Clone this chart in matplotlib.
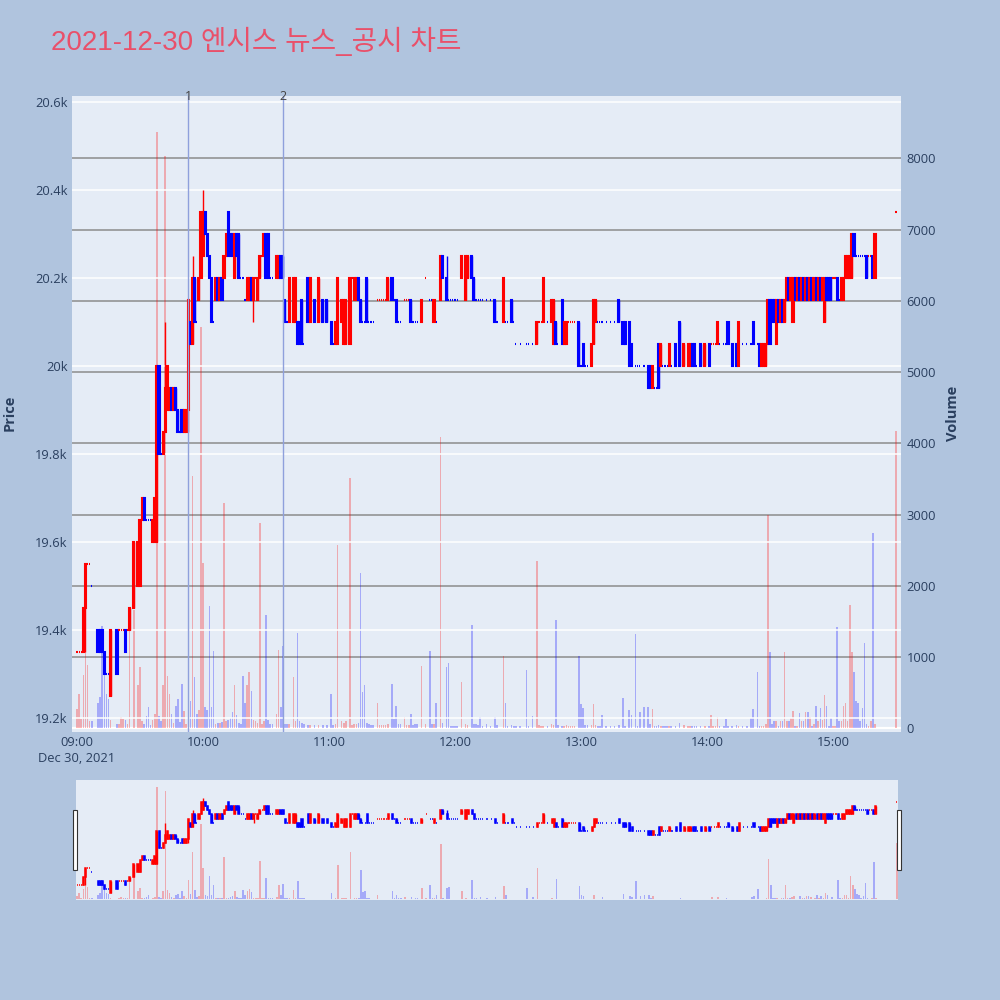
import matplotlib
matplotlib.use('Agg')
import matplotlib.pyplot as plt
from matplotlib.patches import Rectangle
from matplotlib.ticker import FuncFormatter

plt.rcParams['font.family'] = ['Open Sans', 'Noto Sans CJK KR', 'DejaVu Sans']

TITLE = '2021-12-30 엔시스 뉴스_공시 차트'

# minutes after 09:00 (one candle per traded minute)
minutes = [
    0, 1, 2, 3, 4, 5, 6, 7, 10, 11,
    12, 13, 14, 15, 16, 19, 20, 21, 22, 23,
    24, 25, 27, 29, 30, 31, 32, 33, 34, 35,
    36, 37, 38, 39, 40, 41, 42, 43, 44, 45,
    46, 47, 48, 49, 50, 51, 52, 53, 54, 55,
    56, 57, 58, 59, 60, 61, 62, 63, 64, 65,
    66, 67, 68, 69, 70, 71, 72, 73, 74, 75,
    76, 77, 78, 79, 80, 81, 82, 83, 84, 85,
    86, 87, 88, 89, 90, 91, 92, 93, 95, 96,
    97, 98, 99, 100, 101, 103, 104, 105, 106, 107,
    108, 110, 111, 113, 115, 117, 119, 121, 122, 123,
    124, 126, 127, 128, 130, 131, 132, 133, 134, 135,
    136, 137, 138, 139, 140, 141, 143, 144, 145, 146,
    147, 148, 150, 151, 152, 153, 154, 156, 157, 158,
    159, 160, 161, 162, 164, 166, 168, 169, 170, 171,
    173, 174, 176, 177, 178, 179, 180, 181, 183, 185,
    186, 188, 189, 190, 191, 192, 193, 195, 197, 199,
    200, 203, 204, 205, 207, 208, 209, 211, 214, 215,
    217, 219, 220, 221, 222, 224, 226, 227, 228, 229,
    231, 232, 233, 234, 235, 236, 237, 239, 240, 241,
    242, 243, 245, 246, 247, 248, 249, 250, 252, 254,
    256, 258, 260, 261, 263, 264, 266, 267, 268, 270,
    272, 273, 274, 275, 276, 277, 278, 279, 280, 281,
    282, 283, 285, 287, 289, 291, 292, 293, 294, 295,
    297, 299, 301, 302, 303, 304, 305, 306, 308, 309,
    310, 312, 314, 315, 317, 319, 321, 322, 324, 325,
    326, 327, 328, 329, 330, 331, 332, 333, 334, 335,
    336, 337, 338, 339, 340, 341, 342, 343, 344, 345,
    346, 347, 348, 349, 350, 351, 352, 353, 354, 355,
    356, 357, 358, 359, 360, 361, 362, 363, 364, 365,
    366, 367, 368, 369, 370, 371, 372, 373, 374, 375,
    376, 377, 378, 379, 380, 390,
]

opens = [
    19350, 19350, 19350, 19350, 19450, 19550, 19550, 19500, 19400, 19400,
    19400, 19350, 19300, 19300, 19250, 19400, 19400, 19400, 19400, 19400,
    19400, 19400, 19450, 19500, 19500, 19650, 19700, 19650, 19650, 19650,
    19600, 19600, 19600, 20000, 19800, 19800, 19850, 19900, 19900, 19950,
    19900, 19950, 19900, 19850, 19900, 19850, 19850, 19900, 20100, 20050,
    20200, 20100, 20150, 20200, 20250, 20350, 20300, 20250, 20200, 20100,
    20150, 20200, 20150, 20200, 20200, 20250, 20350, 20300, 20300, 20200,
    20300, 20300, 20200, 20200, 20150, 20150, 20150, 20200, 20150, 20200,
    20150, 20200, 20250, 20250, 20300, 20300, 20200, 20200, 20200, 20200,
    20250, 20250, 20150, 20100, 20100, 20100, 20100, 20100, 20100, 20150,
    20050, 20200, 20100, 20150, 20100, 20150, 20150, 20100, 20050, 20050,
    20050, 20100, 20050, 20050, 20050, 20200, 20150, 20150, 20200, 20150,
    20100, 20100, 20200, 20100, 20100, 20100, 20150, 20150, 20150, 20150,
    20150, 20150, 20200, 20150, 20150, 20100, 20100, 20150, 20150, 20150,
    20150, 20100, 20100, 20100, 20100, 20200, 20150, 20150, 20100, 20100,
    20150, 20250, 20200, 20150, 20150, 20150, 20150, 20150, 20200, 20150,
    20200, 20250, 20200, 20150, 20150, 20150, 20150, 20150, 20150, 20150,
    20100, 20100, 20100, 20100, 20150, 20100, 20050, 20050, 20050, 20050,
    20050, 20050, 20100, 20100, 20100, 20100, 20100, 20050, 20100, 20050,
    20150, 20050, 20050, 20100, 20100, 20100, 20100, 20100, 20000, 20050,
    20000, 20000, 20000, 20050, 20100, 20100, 20100, 20100, 20100, 20100,
    20100, 20150, 20100, 20100, 20100, 20050, 20000, 20000, 20000, 20000,
    20000, 20000, 19950, 19950, 19950, 20050, 20000, 20000, 20000, 20000,
    20000, 20000, 20050, 20100, 20000, 20000, 20000, 20050, 20050, 20000,
    20050, 20000, 20050, 20050, 20050, 20050, 20050, 20050, 20050, 20050,
    20100, 20050, 20050, 20000, 20050, 20050, 20050, 20100, 20050, 20050,
    20000, 20000, 20000, 20050, 20150, 20150, 20150, 20050, 20150, 20100,
    20150, 20100, 20150, 20200, 20150, 20100, 20200, 20150, 20200, 20150,
    20200, 20150, 20200, 20150, 20200, 20150, 20200, 20150, 20200, 20150,
    20100, 20200, 20200, 20200, 20200, 20200, 20200, 20150, 20150, 20150,
    20200, 20200, 20200, 20200, 20300, 20250, 20250, 20250, 20250, 20250,
    20250, 20250, 20250, 20250, 20200, 20350,
]

closes = [
    19350, 19350, 19350, 19450, 19550, 19550, 19550, 19500, 19350, 19350,
    19350, 19300, 19300, 19300, 19400, 19300, 19400, 19400, 19400, 19350,
    19400, 19450, 19600, 19600, 19650, 19700, 19650, 19650, 19650, 19650,
    19650, 19700, 20000, 19800, 19800, 19850, 19950, 20000, 19950, 19900,
    19950, 19900, 19850, 19850, 19850, 19900, 19900, 20150, 20050, 20200,
    20100, 20100, 20200, 20350, 20350, 20300, 20250, 20200, 20100, 20100,
    20200, 20150, 20200, 20150, 20250, 20300, 20250, 20250, 20250, 20300,
    20250, 20200, 20200, 20200, 20150, 20200, 20200, 20150, 20200, 20200,
    20200, 20250, 20250, 20300, 20200, 20200, 20200, 20200, 20250, 20250,
    20200, 20200, 20100, 20100, 20200, 20200, 20200, 20050, 20050, 20050,
    20050, 20100, 20200, 20100, 20200, 20100, 20100, 20050, 20050, 20100,
    20200, 20150, 20150, 20150, 20200, 20200, 20200, 20200, 20150, 20100,
    20100, 20100, 20100, 20100, 20100, 20100, 20150, 20150, 20150, 20150,
    20150, 20200, 20150, 20150, 20100, 20100, 20100, 20150, 20150, 20150,
    20100, 20100, 20100, 20100, 20150, 20200, 20150, 20150, 20150, 20100,
    20250, 20200, 20150, 20150, 20150, 20150, 20150, 20150, 20250, 20250,
    20250, 20200, 20150, 20150, 20150, 20150, 20150, 20150, 20150, 20100,
    20100, 20200, 20100, 20100, 20100, 20100, 20050, 20050, 20050, 20050,
    20050, 20100, 20100, 20100, 20200, 20100, 20150, 20150, 20050, 20050,
    20050, 20100, 20100, 20100, 20100, 20100, 20100, 20000, 20000, 20000,
    20000, 20000, 20050, 20150, 20150, 20100, 20100, 20100, 20100, 20100,
    20100, 20100, 20050, 20050, 20000, 20000, 20000, 20000, 20000, 20000,
    19950, 19950, 20000, 19950, 19950, 19950, 20050, 20000, 20000, 20000,
    20050, 20000, 20000, 20000, 20050, 20050, 20050, 20000, 20000, 20000,
    20000, 20050, 20000, 20050, 20050, 20050, 20100, 20050, 20050, 20050,
    20050, 20000, 20000, 20100, 20050, 20050, 20050, 20050, 20050, 20000,
    20050, 20050, 20050, 20150, 20050, 20100, 20100, 20150, 20100, 20150,
    20100, 20150, 20200, 20150, 20200, 20200, 20150, 20200, 20150, 20200,
    20150, 20200, 20150, 20200, 20150, 20200, 20150, 20200, 20150, 20200,
    20200, 20150, 20150, 20150, 20200, 20200, 20150, 20150, 20200, 20200,
    20250, 20250, 20250, 20300, 20250, 20250, 20250, 20250, 20250, 20250,
    20200, 20250, 20250, 20200, 20300, 20350,
]

volumes = [
    266, 476, 126, 742, 1386, 882, 98, 98, 350, 434,
    1430, 1008, 476, 406, 120, 56, 60, 154, 130, 120,
    60, 1386, 1666, 602, 854, 100, 60, 168, 294, 50,
    120, 200, 8375, 168, 100, 602, 8025, 728, 476, 196,
    80, 308, 406, 90, 616, 238, 60, 1430, 378, 3543,
    714, 200, 250, 5630, 2325, 294, 250, 1713, 300, 1078,
    60, 70, 80, 90, 3165, 100, 120, 150, 230, 602,
    180, 80, 60, 728, 350, 602, 784, 518, 120, 100,
    80, 2885, 60, 100, 1596, 120, 60, 60, 200, 1092,
    300, 1148, 60, 60, 60, 714, 100, 1344, 100, 80,
    60, 50, 50, 50, 40, 40, 40, 476, 40, 60,
    2577, 100, 80, 100, 3515, 40, 60, 60, 80, 2185,
    510, 611, 80, 60, 40, 40, 350, 50, 50, 40,
    40, 56, 616, 126, 308, 60, 60, 154, 50, 40,
    196, 40, 60, 60, 868, 60, 1078, 60, 60, 350,
    4090, 80, 854, 910, 30, 30, 30, 30, 644, 60,
    50, 1456, 60, 60, 40, 156, 30, 60, 30, 154,
    40, 1008, 350, 30, 50, 30, 30, 30, 812, 30,
    168, 2353, 40, 30, 30, 30, 60, 40, 1526, 40,
    30, 30, 40, 30, 30, 30, 30, 1008, 336, 280,
    40, 40, 40, 336, 40, 30, 30, 182, 30, 30,
    30, 40, 420, 30, 252, 182, 1330, 30, 224, 294,
    294, 60, 266, 30, 30, 40, 30, 30, 30, 30,
    30, 30, 30, 80, 40, 30, 30, 30, 30, 30,
    30, 30, 30, 182, 30, 30, 154, 30, 30, 126,
    30, 30, 50, 30, 30, 30, 140, 266, 784, 30,
    30, 30, 60, 3000, 1064, 60, 100, 100, 30, 100,
    100, 1064, 100, 100, 140, 238, 30, 30, 210, 100,
    100, 224, 230, 160, 30, 60, 308, 100, 280, 110,
    462, 308, 30, 140, 30, 30, 1428, 100, 100, 308,
    350, 100, 1736, 1064, 784, 378, 350, 100, 280, 1204,
    60, 30, 100, 2745, 60, 4173,
]

# candles whose high / low reach beyond the body
wick_minutes = [4, 42, 53, 55, 60, 84, 176]
wick_highs = [19550, 20100, 20150, 20250, 20400, 20200, 20250]
wick_lows = [19350, 19850, 19850, 20050, 20250, 20100, 20150]

# news / disclosure markers (minutes after 09:00)
event_minutes = [53, 98]
event_labels = ['1', '2']

hour_ticks = [0, 60, 120, 180, 240, 300, 360]
hour_labels = ['09:00\nDec 30, 2021', '10:00', '11:00', '12:00', '13:00', '14:00', '15:00']
price_ticks = [19200, 19400, 19600, 19800, 20000, 20200, 20400, 20600]
volume_ticks = [0, 1000, 2000, 3000, 4000, 5000, 6000, 7000, 8000]

RED = '#FF0000'
BLUE = '#0000FF'
PLOT_BG = '#E5ECF6'
PAPER_BG = '#B0C4DE'
FONT_COLOR = '#2A3F5F'


def candle_colors(o, c):
    # plotly rule: flat candles keep direction vs previous close
    cols = []
    up = True
    prev = None
    for oo, cc in zip(o, c):
        if cc > oo:
            up = True
        elif cc < oo:
            up = False
        elif prev is not None and cc != prev:
            up = cc > prev
        cols.append(RED if up else BLUE)
        prev = cc
    return cols


colors = candle_colors(opens, closes)
highs = [max(o, c) for o, c in zip(opens, closes)]
lows = [min(o, c) for o, c in zip(opens, closes)]
for m, h, l in zip(wick_minutes, wick_highs, wick_lows):
    i = minutes.index(m)
    highs[i] = h
    lows[i] = l
bottoms = [min(o, c) for o, c in zip(opens, closes)]
heights = [abs(c - o) for o, c in zip(opens, closes)]


def draw_candles(ax, width=0.55, lw=1.5):
    ax.vlines(minutes, lows, highs, colors=colors, linewidth=1.0, zorder=3)
    ax.bar(minutes, heights, width=width, bottom=bottoms, color=colors,
           edgecolor=colors, linewidth=lw, zorder=4)


def draw_volume(ax):
    ax.bar(minutes, volumes, width=0.75, color=colors, alpha=0.28, linewidth=0, zorder=2)


fig = plt.figure(figsize=(10, 10), dpi=100, facecolor=PAPER_BG)

# main chart: volume axis underneath, price axis on top
ax_vol = fig.add_axes([0.072, 0.268, 0.829, 0.636])
ax = ax_vol.twinx()
ax_vol.set_zorder(1)
ax.set_zorder(2)
ax.patch.set_visible(False)
ax_vol.set_facecolor(PLOT_BG)

ax_vol.set_xlim(-2.4, 392.4)
ax.set_ylim(19168, 20614)
ax_vol.set_ylim(-52, 8874)

draw_volume(ax_vol)
draw_candles(ax)

for a in (ax, ax_vol):
    for s in a.spines.values():
        s.set_visible(False)

ax_vol.set_yticks(volume_ticks)
ax_vol.yaxis.grid(True, color='#8C8C8C', linewidth=1.1)
ax_vol.set_axisbelow(True)
ax_vol.axhline(0, color='white', linewidth=1.6, zorder=1)
ax_vol.yaxis.tick_right()

ax.yaxis.tick_left()
ax.set_yticks(price_ticks)
ax.yaxis.set_major_formatter(FuncFormatter(lambda v, p: f'{v / 1000:g}k'))
ax.yaxis.grid(True, color='white', linewidth=1.1)
ax.set_axisbelow(True)

ax_vol.set_xticks(hour_ticks)
ax_vol.set_xticklabels(hour_labels, linespacing=1.3, va='top')

ax.tick_params(axis='y', length=0, pad=3, labelsize=9.3, labelcolor=FONT_COLOR,
               left=True, right=False, labelleft=True, labelright=False)
ax_vol.tick_params(axis='y', length=0, pad=4, labelsize=9.3, labelcolor=FONT_COLOR,
                   left=False, right=True, labelleft=False, labelright=True)
ax_vol.tick_params(axis='x', length=0, pad=3, labelsize=9.3, labelcolor=FONT_COLOR)

for m, lab in zip(event_minutes, event_labels):
    ax.axvline(m, color='#8FA0DC', linewidth=1.0, zorder=5)
    ax.text(m, 1.0, lab, transform=ax.get_xaxis_transform(), ha='center', va='center',
            fontsize=9, color='#444444', zorder=6)

fig.text(0.051, 0.959, TITLE, fontsize=20, color='#E9506A', ha='left', va='center',
         family=['Liberation Sans', 'Noto Sans CJK KR'])
fig.text(0.010, 0.587, 'Price', rotation=90, fontsize=10.5, fontweight='bold',
         color=FONT_COLOR, ha='center', va='center')
fig.text(0.953, 0.587, 'Volume', rotation=90, fontsize=10.5, fontweight='bold',
         color=FONT_COLOR, ha='center', va='center')

# range slider
sl_vol = fig.add_axes([0.076, 0.100, 0.822, 0.120])
sl = sl_vol.twinx()
sl_vol.set_zorder(1)
sl.set_zorder(2)
sl.patch.set_visible(False)
sl_vol.set_facecolor(PLOT_BG)
sl_vol.set_xlim(-0.5, 390.5)
sl.set_ylim(19168, 20614)
sl_vol.set_ylim(-52, 8874)
draw_volume(sl_vol)
draw_candles(sl, width=0.5, lw=1.1)
for a in (sl, sl_vol):
    a.set_xticks([])
    a.set_yticks([])
    for s in a.spines.values():
        s.set_visible(False)

for x0 in (0.073, 0.897):
    fig.patches.append(Rectangle((x0, 0.130), 0.004, 0.060, transform=fig.transFigure,
                                 facecolor='white', edgecolor='#333333', linewidth=0.8))

fig.savefig('out.png', dpi=100, facecolor=PAPER_BG)
